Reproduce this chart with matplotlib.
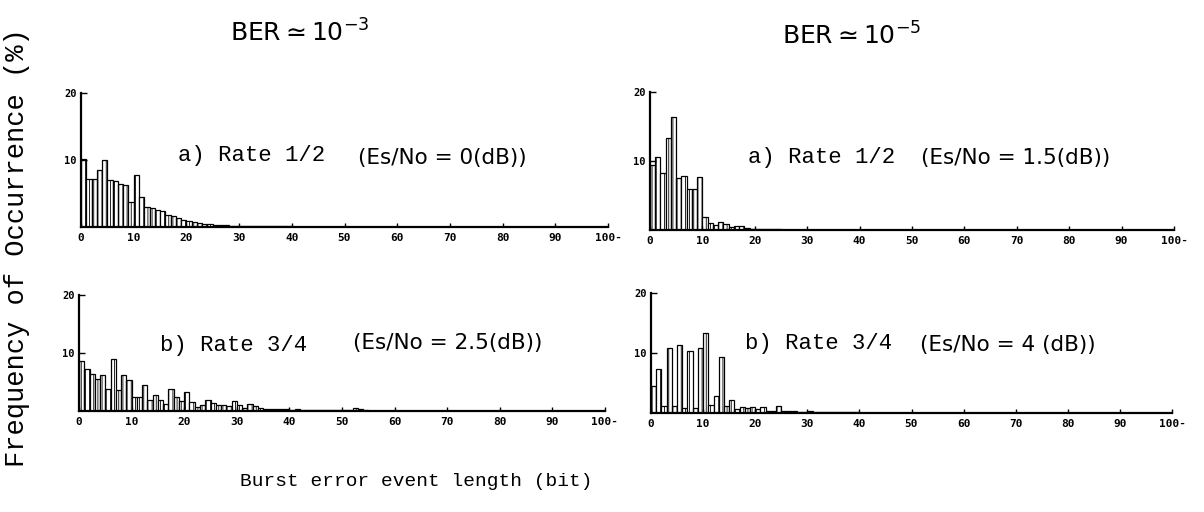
import matplotlib
matplotlib.use('Agg')
import matplotlib.pyplot as plt
import numpy as np

# burst error length histograms (percent), one bin per bit
rate12_ber3 = [10.2, 7.2, 7.1, 8.5, 10.0, 7.0, 6.8, 6.4, 6.2, 3.8,
               7.7, 4.5, 3.0, 2.8, 2.6, 2.4, 1.8, 1.6, 1.3, 1.0,
               0.85, 0.75, 0.55, 0.5, 0.4, 0.35, 0.3, 0.25, 0.2, 0.2,
               0.15, 0.15, 0.1, 0.1, 0.1, 0.1, 0.1, 0.1, 0.1, 0.1]
rate34_ber3 = [8.6, 7.3, 6.3, 5.5, 6.2, 3.8, 8.9, 3.6, 6.2, 5.3,
               2.5, 2.5, 4.4, 1.9, 2.7, 1.9, 1.2, 3.8, 2.4, 1.8,
               3.2, 1.5, 0.7, 1.1, 1.9, 1.4, 1.1, 1.1, 0.8, 1.8,
               1.1, 0.6, 1.2, 0.8, 0.6, 0.35, 0.3, 0.3, 0.4, 0.3,
               0.25, 0.3, 0.25, 0.2, 0.2, 0.2, 0.15, 0.15, 0.15, 0.2,
               0.2, 0.15, 0.5, 0.3, 0.1]
rate12_ber5 = [9.4, 10.6, 8.2, 13.3, 16.4, 7.5, 7.8, 6.0, 6.0, 7.7,
               1.9, 1.0, 0.7, 1.1, 0.9, 0.5, 0.6, 0.6, 0.25, 0.2,
               0.2, 0.15, 0.1, 0.1, 0.1]
rate34_ber5 = [4.5, 7.3, 1.1, 10.8, 1.1, 11.3, 0.8, 10.3, 0.8, 10.8,
               13.4, 1.4, 2.8, 9.4, 1.2, 2.1, 0.6, 1.0, 0.8, 1.0,
               0.6, 1.0, 0.3, 0.4, 1.2, 0.3, 0.4, 0.3, 0.2, 0.2,
               0.3, 0.2, 0.2, 0.15, 0.1, 0.1, 0.1, 0.1, 0.1, 0.1]

xtick_vals = list(range(0, 101, 10))
xtick_text = ['0', '10', '20', '30', '40', '50', '60', '70', '80', '90', '100-']

ber_titles = [r'BER$\simeq$10$^{-3}$', r'BER$\simeq$10$^{-5}$']
rate_text = ['a) Rate 1/2', 'b) Rate 3/4']
esno_text = [['(Es/No = 0(dB))', '(Es/No = 1.5(dB))'],
             ['(Es/No = 2.5(dB))', '(Es/No = 4 (dB))']]

W, H = 1204, 512
fig = plt.figure(figsize=(W / 100, H / 100), dpi=100)
fig.patch.set_facecolor('white')
plt.rcParams['hatch.linewidth'] = 0.6

def px_axes(left, top, right, bottom):
    return fig.add_axes([left / W, 1 - bottom / H, (right - left) / W, (bottom - top) / H])

# panel boxes in pixels: left, top(20%), right(100 bit), bottom(0%)
boxes = [[(81, 93, 608, 227), (650, 92, 1174, 230)],
         [(79, 295, 605, 411), (651, 293, 1172, 413)]]
series = [[rate12_ber3, rate12_ber5], [rate34_ber3, rate34_ber5]]
# text positions (pixels) for the rate label and Es/No label in each panel
rate_pos = [[(178, 156), (748, 157)], [(160, 345), (745, 343)]]
esno_pos = [[(358, 158), (921, 158)], [(353, 343), (920, 345)]]

mono = 'Liberation Mono'

for r in range(2):
    for c in range(2):
        ax = px_axes(*boxes[r][c])
        vals = series[r][c]
        lengths = np.arange(len(vals))
        ax.bar(lengths, vals, width=1.0, align='edge', color='white',
               edgecolor='black', linewidth=0.9, hatch='||||')
        ax.set_xlim(0, 100)
        ax.set_ylim(0, 20)
        for s in ['top', 'right']:
            ax.spines[s].set_visible(False)
        ax.spines['left'].set_linewidth(1.6)
        ax.spines['bottom'].set_linewidth(1.6)
        ax.set_xticks(xtick_vals)
        ax.set_xticklabels(xtick_text, fontsize=8, fontweight='bold',
                           family='DejaVu Sans Mono')
        ax.set_yticks([10, 20])
        ax.set_yticklabels(['10', '20'], fontsize=7.5, fontweight='bold',
                           family='DejaVu Sans Mono')
        ax.tick_params(axis='x', direction='in', length=3, width=1, pad=4)
        ax.tick_params(axis='y', direction='in', length=4, width=1, pad=3)
        ax.patch.set_alpha(0)

        rx, ry = rate_pos[r][c]
        fig.text(rx / W, 1 - ry / H, rate_text[r], family=mono, fontsize=16,
                 va='center', ha='left')
        ex, ey = esno_pos[r][c]
        fig.text(ex / W, 1 - ey / H, esno_text[r][c], fontsize=15.5,
                 va='center', ha='left')

fig.text(300 / W, 1 - 33 / H, ber_titles[0], fontsize=18, ha='center', va='center')
fig.text(852 / W, 1 - 36 / H, ber_titles[1], fontsize=18, ha='center', va='center')

fig.text(17 / W, 1 - 248 / H, 'Frequency of Occurrence (%)', family=mono,
         fontsize=19.5, rotation=90, ha='center', va='center')
fig.text(416 / W, 1 - 481 / H, 'Burst error event length (bit)', family=mono,
         fontsize=14, ha='center', va='center')

plt.savefig('out.png', dpi=100)
